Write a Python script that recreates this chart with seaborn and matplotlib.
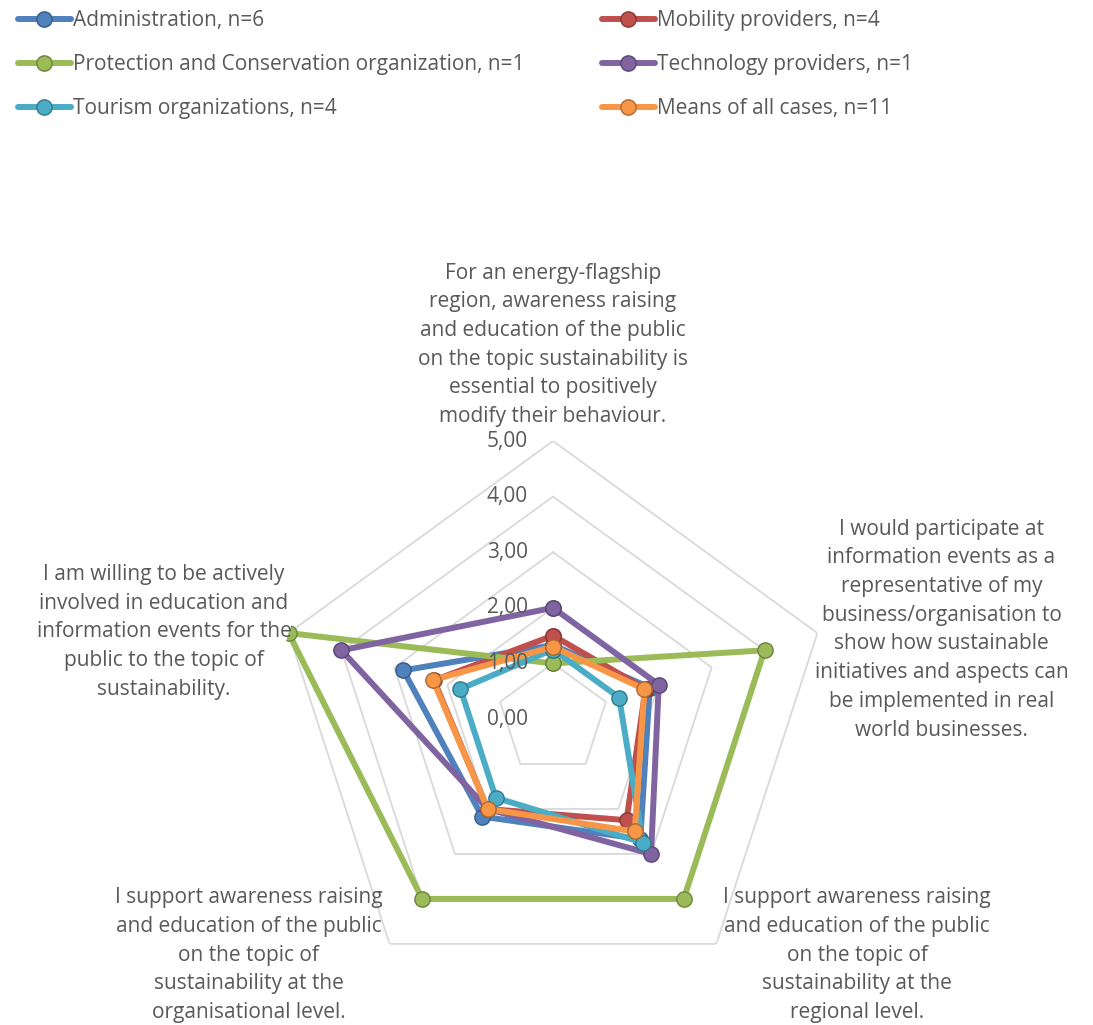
import numpy as np
import pandas as pd
import matplotlib.pyplot as plt
from matplotlib.lines import Line2D
import matplotlib.colors as mcolors
import seaborn as sns

## the five statements (clockwise from the top)
statements = [
    "For an energy-flagship\nregion, awareness raising\nand education of the public\non the topic sustainability is\nessential to positively\nmodify their behaviour.",
    "I would participate at\ninformation events as a\nrepresentative of my\nbusiness/organisation to\nshow how sustainable\ninitiatives and aspects can\nbe implemented in real\nworld businesses.",
    "I support awareness raising\nand education of the public\non the topic of\nsustainability at the\nregional level.",
    "I support awareness raising\nand education of the public\non the topic of\nsustainability at the\norganisational level.",
    "I am willing to be actively\ninvolved in education and\ninformation events for the\npublic to the topic of\nsustainability.",
]

groups = ["Administration, n=6", "Mobility providers, n=4",
          "Protection and Conservation organization, n=1", "Technology providers, n=1",
          "Tourism organizations, n=4", "Means of all cases, n=11"]
colors = ["#4F81BD", "#C0504D", "#9BBB59", "#8064A2", "#4BACC6", "#F79646"]

administration = [1.33, 1.83, 2.67, 2.17, 2.83]
mobility = [1.50, 1.75, 2.25, 2.00, 2.25]
protection = [1.00, 4.00, 4.00, 4.00, 5.00]
technology = [2.00, 2.00, 3.00, 2.00, 4.00]
tourism = [1.25, 1.25, 2.75, 1.75, 1.75]
means = [1.30, 1.73, 2.50, 2.00, 2.27]
all_values = [administration, mobility, protection, technology, tourism, means]

ticks = [0, 1, 2, 3, 4, 5]
grey_text = "#595959"

sns.set_theme(style="white")
plt.rcParams['font.family'] = ['Open Sans', 'DejaVu Sans']

n = len(statements)
angles = np.linspace(0, 2 * np.pi, n, endpoint=False)
closed = np.append(angles, 2 * np.pi)

## long table: one row per point, first point repeated to close the polygon
rows = []
for g, vals in zip(groups, all_values):
    for i, a in enumerate(closed):
        rows.append({"group": g, "angle": a, "value": vals[i % n]})
df = pd.DataFrame(rows)

fig = plt.figure(figsize=(10.93, 10.25), dpi=100)
ax = fig.add_axes([275 / 1093, 28 / 1025, 556 / 1093, 556 / 1025], projection="polar")
ax.set_theta_offset(np.pi / 2)
ax.set_theta_direction(-1)

# pentagon gridlines
for r in ticks[1:]:
    ax.plot(closed, [r] * (n + 1), color="#d9d9d9", lw=1.3, zorder=0)

sns.lineplot(data=df, x="angle", y="value", hue="group", hue_order=groups,
             palette=colors, sort=False, estimator=None, lw=4.3,
             marker="o", ms=11, legend=False, ax=ax)

def darker(c):
    return tuple(v * 0.7 for v in mcolors.to_rgb(c))

for line in ax.lines[len(ticks) - 1:]:
    line.set_markeredgecolor(darker(line.get_color()))
    line.set_markeredgewidth(1.0)

ax.set_ylim(0, 5)
ax.set_xticks([])
ax.set_yticks([])
ax.set_xlabel("")
ax.set_ylabel("")
ax.grid(False)
ax.spines["polar"].set_visible(False)

for r in ticks:
    ax.annotate(f"{r},00", xy=(0, r), xytext=(-18, 0), textcoords="offset points",
                ha="right", va="center", color=grey_text, fontsize=15)

# statement labels around the chart
label_pos = [((0, 10), "center", "bottom"),
             ((-2, 2.5), "left", "center"),
             ((5, -8), "left", "center"),
             ((-5, -8), "right", "center"),
             ((2, 1), "right", "center")]
for a, txt, (off, ha, va) in zip(angles, statements, label_pos):
    ax.annotate(txt, xy=(a, 5), xytext=off, textcoords="offset points",
                ha=ha, va=va, multialignment="center", color=grey_text,
                fontsize=15, linespacing=1.48, annotation_clip=False)

handles = [Line2D([], [], color=c, lw=4.3, marker="o", ms=11, mec=darker(c))
           for c in colors]
leg_kw = dict(loc="upper left", frameon=False, fontsize=15, handlelength=2.5,
              handletextpad=0.1, labelspacing=1.1, borderpad=0.5, borderaxespad=0,
              labelcolor=grey_text)
leg1 = fig.legend([handles[0], handles[2], handles[4]], [groups[0], groups[2], groups[4]],
                  bbox_to_anchor=(8 / 1093, 1.0), **leg_kw)
leg2 = fig.legend([handles[1], handles[3], handles[5]], [groups[1], groups[3], groups[5]],
                  bbox_to_anchor=(592 / 1093, 1.0), **leg_kw)

fig.savefig("out.png", dpi=100)
